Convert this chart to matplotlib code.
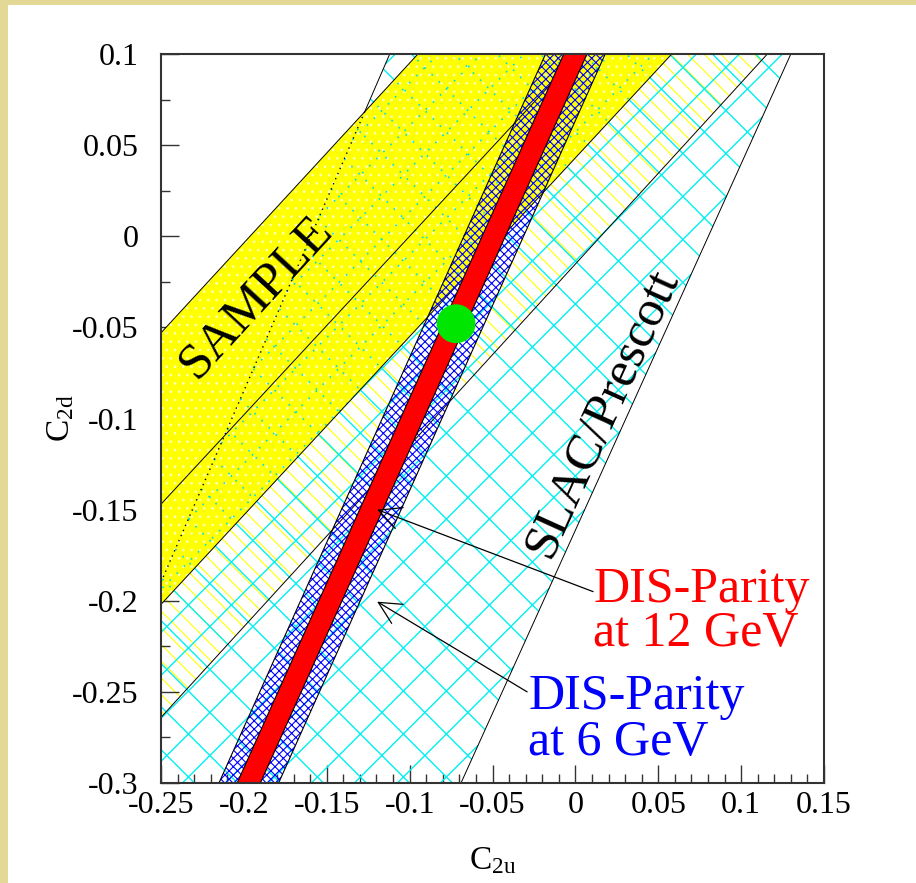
import numpy as np
import matplotlib
matplotlib.use("Agg")
import matplotlib.pyplot as plt
from matplotlib.patches import Polygon, Rectangle
from matplotlib.collections import LineCollection
from matplotlib.ticker import FixedLocator, MultipleLocator

plt.rcParams['font.family'] = ['Liberation Serif', 'DejaVu Serif']
plt.rcParams['mathtext.fontset'] = 'custom'
plt.rcParams['mathtext.rm'] = 'Liberation Serif'
plt.rcParams['mathtext.it'] = 'Liberation Serif:italic'
plt.rcParams['hatch.linewidth'] = 0.8

# axis ranges and ticks
x_lim = (-0.25, 0.15)
y_lim = (-0.3, 0.1)
x_ticks = [-0.25, -0.2, -0.15, -0.1, -0.05, 0.0, 0.05, 0.1, 0.15]
x_tick_labels = ['-0.25', '-0.2', '-0.15', '-0.1', '-0.05', '0', '0.05', '0.1', '0.15']
y_ticks = [-0.3, -0.25, -0.2, -0.15, -0.1, -0.05, 0.0, 0.05, 0.1]
y_tick_labels = ['-0.3', '-0.25', '-0.2', '-0.15', '-0.1', '-0.05', '0', '0.05', '0.1']

# band edges as (C2u, C2d, slope dC2d/dC2u)
sample_upper = (-0.25, -0.053, 0.987)
sample_mid = (-0.25, -0.147, 0.98)
sample_lower = (-0.25, -0.202, 0.98)
sample_outer = (-0.25, -0.264, 0.995)
slac_left = (-0.112, 0.1, 2.1)
slac_right = (0.130, 0.1, 2.01)
dis_center = (0.0, 0.1, 2.03)
dis12_half = 0.007   # half width in C2u
dis6_half = 0.018

sm_point = (-0.072, -0.048)

# labels
red_lines = ['DIS-Parity', 'at 12 GeV']
red_baselines = [-0.2005, -0.2247]
red_left = 0.0107
blue_lines = ['DIS-Parity', 'at 6 GeV']
blue_baselines = [-0.2593, -0.2846]
blue_left = -0.0285
red_arrow = ((-0.1196, -0.15), (0.0107, -0.195))
blue_arrow = ((-0.1196, -0.2005), (-0.0291, -0.25))


def c2u_on(line, c2d):
    u0, d0, k = line
    return u0 + (c2d - d0) / k


def shifted(line, du):
    return (line[0] + du, line[1], line[2])


def band(line_a, line_b, lo=-0.7, hi=0.5):
    return [(c2u_on(line_a, lo), lo), (c2u_on(line_a, hi), hi),
            (c2u_on(line_b, hi), hi), (c2u_on(line_b, lo), lo)]


def edge(line, lo=-0.7, hi=0.5):
    return [c2u_on(line, lo), c2u_on(line, hi)], [lo, hi]


W, H = 916, 883
fig = plt.figure(figsize=(W / 100, H / 100), dpi=100)
ax_l, ax_b, ax_w, ax_h = 161 / W, 1 - 783 / H, 663 / W, 729 / H
ax = fig.add_axes([ax_l, ax_b, ax_w, ax_h])
ax.set_xlim(*x_lim)
ax.set_ylim(*y_lim)

# pixels per data unit -> slope of a 45 degree hatch line in data units
px_x = W * ax_w / (x_lim[1] - x_lim[0])
px_y = H * ax_h / (y_lim[1] - y_lim[0])
k45 = px_x / px_y

# SAMPLE outer region: yellow single hatch
ax.add_patch(Polygon(band(sample_lower, sample_outer), closed=True, facecolor='none',
                     edgecolor='#FFFF00', lw=0, hatch='\\\\', zorder=1))

# SLAC/Prescott: wide cyan cross hatch
spacing = 43 / px_x
segs = []
for s in (k45, -k45):
    for c in np.arange(-1.5, 1.5, spacing * k45):
        xs = [(d0 - m * u0 - c) / (s - m) for (u0, d0, m) in (slac_left, slac_right)]
        segs.append([(xs[0], s * xs[0] + c), (xs[1], s * xs[1] + c)])
ax.add_collection(LineCollection(segs, colors='#00F0F0', linewidths=1.0, zorder=2))

# SAMPLE solid region
sample_solid = Polygon(band(sample_upper, sample_lower), closed=True, facecolor='#FFFF00',
                       edgecolor='none', zorder=3)
ax.add_patch(sample_solid)
ax.add_patch(Polygon(band(sample_upper, sample_lower), closed=True, facecolor='none',
                     edgecolor='#FFFFB0', lw=0, hatch='..', zorder=3))
dots = LineCollection(segs, colors='#00E0E0', linewidths=1.2, linestyles=(0, (1, 5)), zorder=4)
ax.add_collection(dots)
dots.set_clip_path(sample_solid)

# black edges
for line in (sample_upper, sample_mid, sample_lower, sample_outer, slac_right):
    ex, ey = edge(line)
    ax.plot(ex, ey, color='black', lw=0.7, zorder=5)
u1, d1, k1 = slac_left
u2, d2, k2 = sample_upper
x_cross = (d2 - k2 * u2 - d1 + k1 * u1) / (k1 - k2)
y_cross = d1 + k1 * (x_cross - u1)
ax.plot([x_cross, c2u_on(slac_left, 0.5)], [y_cross, 0.5], color='black', lw=0.7, zorder=5)
ax.plot([x_cross, c2u_on(slac_left, -0.7)], [y_cross, -0.7], color='black', lw=1.0,
        ls=(0, (1, 3)), zorder=5)

# DIS-Parity 6 GeV (blue hatch) and 12 GeV (red)
blue_poly = band(shifted(dis_center, -dis6_half), shifted(dis_center, dis6_half))
ax.add_patch(Polygon(blue_poly, closed=True, facecolor='none', edgecolor='#0000FF', lw=0,
                     hatch='xxxx', zorder=6))
ax.add_patch(Polygon(blue_poly, closed=True, facecolor='none', edgecolor='black', lw=0.8, zorder=6))
red_poly = band(shifted(dis_center, -dis12_half), shifted(dis_center, dis12_half))
ax.add_patch(Polygon(red_poly, closed=True, facecolor='#FF0000', edgecolor='black', lw=0.8, zorder=7))

ax.scatter([sm_point[0]], [sm_point[1]], s=784, color='#00E600', edgecolors='none', zorder=8)

# annotations
arrow_style = '->,head_length=1.6,head_width=0.8'
for tip, tail in (red_arrow, blue_arrow):
    ax.annotate('', xy=tip, xytext=tail, zorder=9,
                arrowprops=dict(arrowstyle=arrow_style, color='black', lw=0.9,
                                shrinkA=0, shrinkB=0))
for txt, yb in zip(red_lines, red_baselines):
    ax.text(red_left, yb, txt, color='#FF0000', fontsize=36, ha='left', va='baseline', zorder=9)
for txt, yb in zip(blue_lines, blue_baselines):
    ax.text(blue_left, yb, txt, color='#0000FF', fontsize=36, ha='left', va='baseline', zorder=9)

ang_sample = np.degrees(np.arctan(sample_upper[2] / k45))
ax.text(-0.193, -0.0335, 'SAMPLE', fontsize=37, rotation=ang_sample, rotation_mode='anchor',
        ha='center', va='center', zorder=9)
ang_slac = np.degrees(np.arctan(slac_right[2] / k45))
ax.text(0.0165, -0.097, 'SLAC/Prescott', fontsize=37, rotation=ang_slac, rotation_mode='anchor',
        ha='center', va='center', zorder=9)

# axes styling
ax.xaxis.set_major_locator(FixedLocator(x_ticks))
ax.set_xticklabels(x_tick_labels)
ax.yaxis.set_major_locator(FixedLocator(y_ticks))
ax.set_yticklabels(y_tick_labels)
ax.xaxis.set_minor_locator(MultipleLocator(0.01))
ax.yaxis.set_minor_locator(MultipleLocator(0.025))
ax.tick_params(which='both', direction='in', top=False, right=False, color='#333333')
ax.tick_params(which='major', length=13, width=1.0, labelsize=23)
ax.tick_params(which='minor', length=6.5, width=1.0)
ax.tick_params(axis='y', which='major', pad=16)
ax.tick_params(axis='x', which='major', pad=6)
for sp in ax.spines.values():
    sp.set_color('#333333')
    sp.set_linewidth(1.5)
    sp.set_zorder(10)

ax.set_xlabel(r'C$_{\rm 2u}$', fontsize=24, labelpad=18)
ax.set_ylabel(r'C$_{\rm 2d}$', fontsize=24)
ax.yaxis.set_label_coords(-0.128, 0.5)

# beige frame strips
fig.add_artist(Rectangle((0, 0), 8 / W, 1, transform=fig.transFigure, color='#E4D897', lw=0))
fig.add_artist(Rectangle((0, 1 - 5 / H), 1, 5 / H, transform=fig.transFigure, color='#E4D897', lw=0))

fig.savefig('out.png', dpi=100, facecolor='white')
